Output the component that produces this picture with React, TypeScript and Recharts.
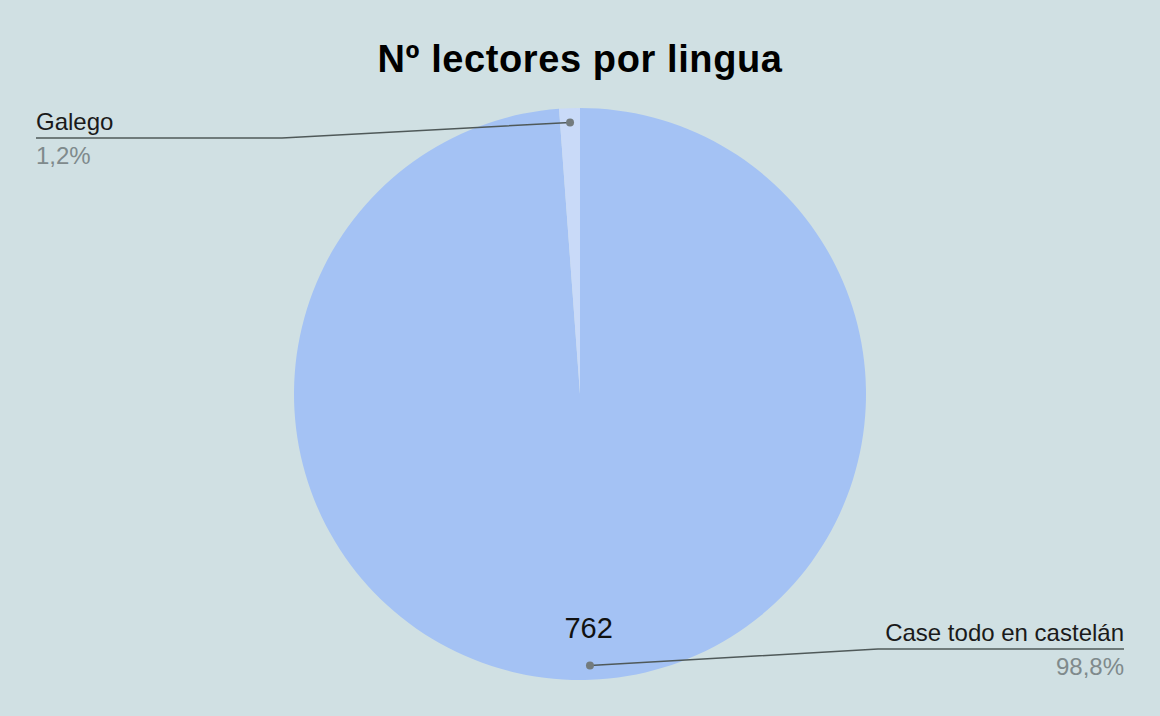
import React from "react";
import { PieChart, Pie, Cell } from "recharts";

const names = ["Case todo en castelán", "Galego"];
const values = [762, 9];
const colors = ["#a4c2f4", "#c9daf8"];

const data = names.map((name, i) => ({ name, value: values[i] }));

const RAD = Math.PI / 180;
const FONT = "'Liberation Sans', Arial, sans-serif";

const renderLabel = (props: any) => {
  const { cx, cy, midAngle, outerRadius, percent, value, name, index } = props;
  const cos = Math.cos(-midAngle * RAD);
  const sin = Math.sin(-midAngle * RAD);
  const dotX = cx + outerRadius * 0.95 * cos;
  const dotY = cy + outerRadius * 0.95 * sin;
  const right = cos >= 0;
  const elbowX = cx + (right ? 298 : -298);
  const elbowY = cy + (sin > 0 ? 255 : -256);
  const endX = cx + (right ? 544 : -544);
  const anchor = right ? "end" : "start";
  const pct = (percent * 100).toFixed(1).replace(".", ",") + "%";
  return (
    <g key={`lbl-${index}`}>
      <polyline
        points={`${dotX},${dotY} ${elbowX},${elbowY} ${endX},${elbowY}`}
        fill="none"
        stroke="#4f5959"
        strokeWidth={1.5}
      />
      <circle cx={dotX} cy={dotY} r={4} fill="#737b7d" />
      <text x={endX} y={elbowY - 8} textAnchor={anchor} fontSize={24} fill="#1a1a1a" fontFamily={FONT}>
        {name}
      </text>
      <text x={endX} y={elbowY + 26} textAnchor={anchor} fontSize={24} fill="#7f8a8c" fontFamily={FONT}>
        {pct}
      </text>
      {percent > 0.05 && (
        <text
          x={cx + outerRadius * 0.82 * cos}
          y={cy + outerRadius * 0.82 * sin + 10}
          textAnchor="middle"
          fontSize={29}
          fill="#111"
          fontFamily={FONT}
        >
          {value}
        </text>
      )}
    </g>
  );
};

export default function App() {
  return (
    <div
      style={{
        position: "absolute",
        left: 0,
        top: 0,
        width: 1160,
        height: 716,
        background: "#d0e0e3",
        overflow: "hidden",
      }}
    >
      <div
        style={{
          position: "absolute",
          left: 0,
          top: 35,
          width: 1160,
          textAlign: "center",
          fontFamily: FONT,
          fontWeight: "bold",
          fontSize: 38,
          letterSpacing: 0.6,
          lineHeight: "48px",
          color: "#000",
        }}
      >
        Nº lectores por lingua
      </div>
      <PieChart width={1160} height={716} margin={{ top: 0, right: 0, bottom: 0, left: 0 }}>
        <Pie
          data={data}
          dataKey="value"
          nameKey="name"
          cx={580}
          cy={394}
          outerRadius={286}
          startAngle={90}
          endAngle={-270}
          stroke="none"
          label={renderLabel}
          labelLine={false}
          isAnimationActive={false}
        >
          {data.map((d, i) => (
            <Cell key={d.name} fill={colors[i]} />
          ))}
        </Pie>
      </PieChart>
    </div>
  );
}
